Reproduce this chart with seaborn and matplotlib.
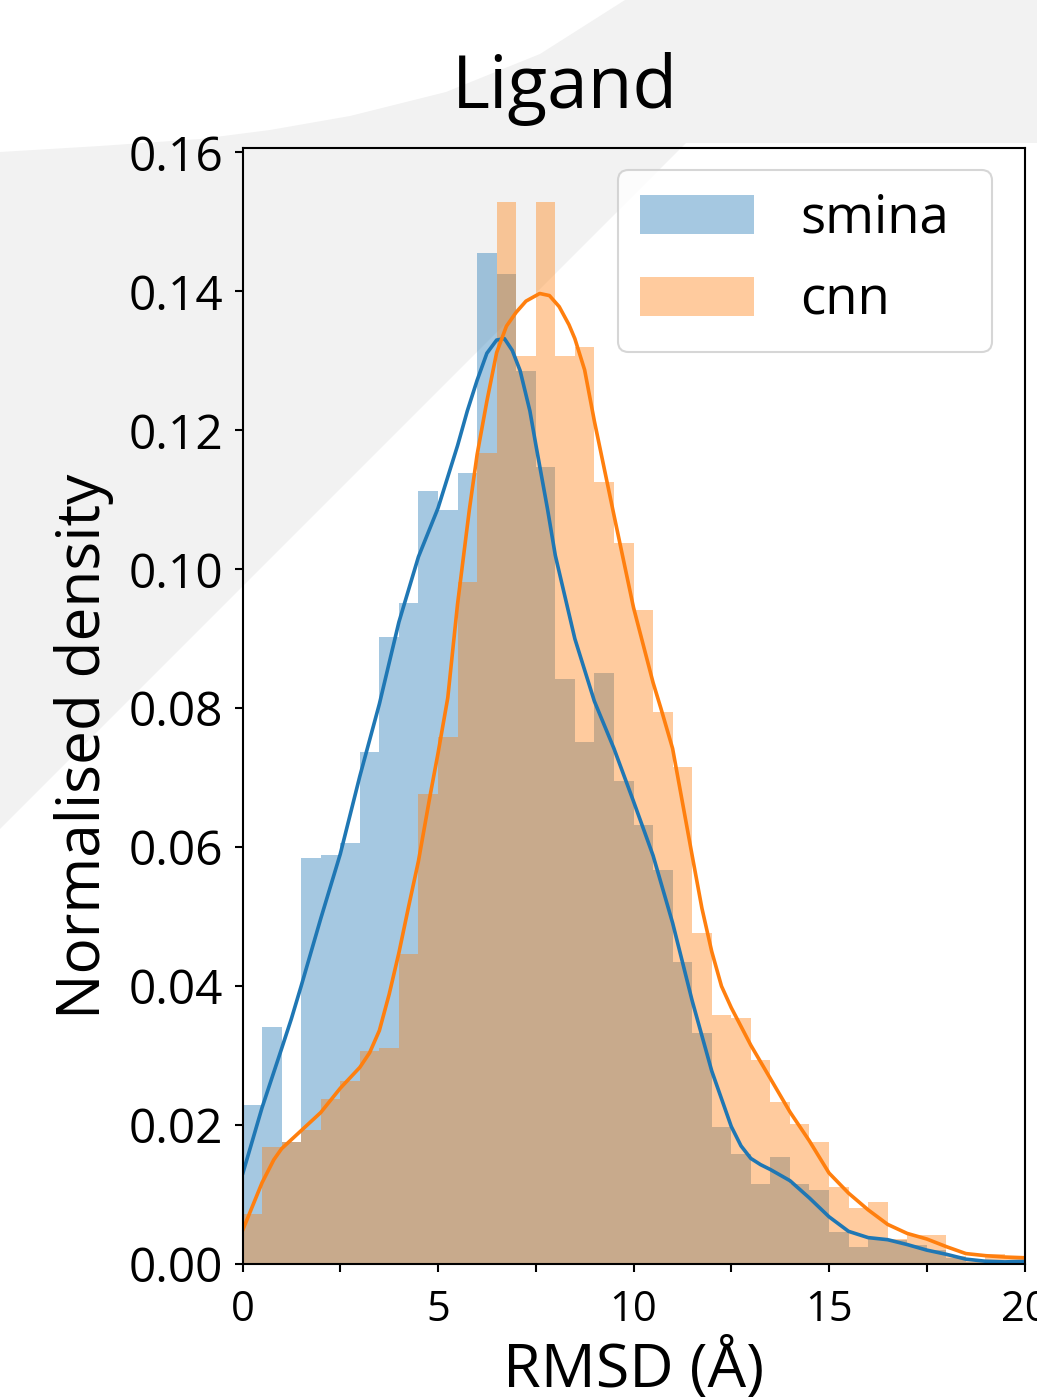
import numpy as np
import pandas as pd
import seaborn as sns
import matplotlib
matplotlib.use("Agg")
import matplotlib.pyplot as plt
from matplotlib.patches import Patch, Polygon, FancyBboxPatch
from matplotlib.transforms import IdentityTransform

# ---------------- data ----------------
bin_edges = [i * 0.5 for i in range(41)]  # 0 .. 20, width 0.5

smina_density = [0.0229, 0.0341, 0.0176, 0.0585, 0.0589, 0.0606, 0.0737, 0.0903,
                 0.0951, 0.1112, 0.1086, 0.1138, 0.1455, 0.1425, 0.1286, 0.1147,
                 0.0842, 0.0751, 0.0851, 0.0695, 0.0632, 0.0567, 0.0434, 0.0332,
                 0.0197, 0.0158, 0.0115, 0.0154, 0.0115, 0.0106, 0.0046, 0.0024,
                 0.0038, 0.0034, 0.0027, 0.0020, 0.0008, 0.0003, 0.0003, 0.0004]

cnn_density = [0.0072, 0.0168, 0.0176, 0.0193, 0.0238, 0.0264, 0.0307, 0.0311,
               0.0446, 0.0677, 0.0759, 0.0981, 0.1168, 0.1529, 0.1307, 0.1529,
               0.1307, 0.1320, 0.1125, 0.1038, 0.0942, 0.0794, 0.0716, 0.0477,
               0.0358, 0.0354, 0.0293, 0.0233, 0.0201, 0.0176, 0.0111, 0.0081,
               0.0089, 0.0036, 0.0042, 0.0042, 0.0012, 0.0004, 0.0015, 0.0008]

smina_kde_x = [0, 0.5, 1.0, 1.25, 1.5, 2.0, 2.5, 3.0, 3.5, 4.0, 4.5, 5.0, 5.3, 5.5,
               5.75, 6.0, 6.25, 6.5, 6.7, 6.9, 7.1, 7.35, 7.5, 7.8, 8.0, 8.5, 9.0,
               9.5, 10.0, 10.5, 11.0, 11.5, 12.0, 12.5, 12.75, 13.0, 13.25, 13.5,
               14.0, 14.5, 15.0, 15.5, 16.0, 16.5, 17.0, 17.5, 18.0, 18.5, 19.0,
               19.5, 20.0]
smina_kde_y = [0.0129, 0.0225, 0.0310, 0.0353, 0.0400, 0.0497, 0.0590, 0.0702,
               0.0806, 0.0924, 0.1018, 0.1088, 0.1142, 0.1178, 0.1228, 0.1272,
               0.1311, 0.1330, 0.1332, 0.1315, 0.1286, 0.1228, 0.1180, 0.1087,
               0.1020, 0.0900, 0.0810, 0.0742, 0.0666, 0.0588, 0.0491, 0.0379,
               0.0278, 0.0198, 0.0170, 0.0152, 0.0143, 0.0136, 0.0120, 0.0095,
               0.0068, 0.0047, 0.0038, 0.0035, 0.0028, 0.0020, 0.0014, 0.0007,
               0.0004, 0.0003, 0.0004]

cnn_kde_x = [0, 0.5, 0.8, 1.0, 1.5, 2.0, 2.5, 3.0, 3.25, 3.5, 3.75, 4.0, 4.25, 4.5,
             4.8, 5.0, 5.25, 5.5, 5.8, 6.0, 6.25, 6.5, 6.75, 7.0, 7.25, 7.6, 7.85,
             8.1, 8.35, 8.5, 8.75, 9.0, 9.5, 10.0, 10.5, 10.7, 11.0, 11.5, 11.75,
             12.0, 12.25, 12.5, 13.0, 13.5, 14.0, 14.5, 15.0, 15.5, 16.0, 16.5,
             17.0, 17.5, 18.0, 18.5, 19.0, 19.5, 20.0]
cnn_kde_y = [0.0048, 0.0117, 0.0150, 0.0166, 0.0192, 0.0218, 0.0253, 0.0283,
             0.0304, 0.0336, 0.0388, 0.0448, 0.0515, 0.0580, 0.0675, 0.0735,
             0.0815, 0.0950, 0.1085, 0.1165, 0.1242, 0.1312, 0.1350, 0.1370,
             0.1386, 0.1397, 0.1394, 0.1378, 0.1352, 0.1332, 0.1287, 0.1213,
             0.1078, 0.0945, 0.0837, 0.0800, 0.0742, 0.0588, 0.0512, 0.0450,
             0.0400, 0.0369, 0.0315, 0.0267, 0.0219, 0.0177, 0.0131, 0.0102,
             0.0078, 0.0057, 0.0044, 0.0036, 0.0025, 0.0015, 0.0012, 0.0010,
             0.0009]

series_names = ["smina", "cnn"]
title_text = "Ligand"
x_label = "RMSD (Å)"
y_label = "Normalised density"
xtick_major = [0, 5, 10, 15, 20]
xtick_minor = [2.5, 7.5, 12.5, 17.5]
ytick_values = [0.00, 0.02, 0.04, 0.06, 0.08, 0.10, 0.12, 0.14, 0.16]

# ---------------- style ----------------
sns.set_style("ticks")
plt.rcParams["font.family"] = ["Open Sans", "DejaVu Sans"]
plt.rcParams["axes.linewidth"] = 1.5
for key in ["text.color", "axes.labelcolor", "xtick.color", "ytick.color",
            "axes.edgecolor"]:
    plt.rcParams[key] = "black"

blue = "#1f77b4"
orange = "#ff7f0e"

W, H = 1037, 1397
fig = plt.figure(figsize=(W / 100, H / 100), dpi=100)
fig.patch.set_facecolor("white")

# decorative light-grey background shape (figure-pixel outline)
bg_px = [(0, 152), (100, 146), (200, 139), (270, 130), (350, 116), (446, 92),
         (540, 54), (625, 0), (1037, 0), (1037, 143), (686, 143), (0, 829)]
bg = Polygon([(x / W, 1 - y / H) for x, y in bg_px], closed=True,
             transform=fig.transFigure, facecolor="#f2f2f2", edgecolor="none",
             zorder=-10)
fig.add_artist(bg)

ax_l, ax_r, ax_t, ax_b = 242.5, 1024.5, 148.3, 1264.0
ax = fig.add_axes([ax_l / W, 1 - ax_b / H, (ax_r - ax_l) / W, (ax_b - ax_t) / H])
ax.set_facecolor("none")

centers = [(bin_edges[i] + bin_edges[i + 1]) / 2 for i in range(len(bin_edges) - 1)]
df = pd.DataFrame({"x": centers, "smina": smina_density, "cnn": cnn_density})

sns.histplot(data=df, x="x", weights="smina", bins=bin_edges, stat="count",
             color=blue, alpha=0.4, linewidth=0, edgecolor="none", ax=ax)
sns.histplot(data=df, x="x", weights="cnn", bins=bin_edges, stat="count",
             color=orange, alpha=0.4, linewidth=0, edgecolor="none", ax=ax)

sns.lineplot(x=smina_kde_x, y=smina_kde_y, color=blue, linewidth=2.6, ax=ax)
sns.lineplot(x=cnn_kde_x, y=cnn_kde_y, color=orange, linewidth=2.6, ax=ax)

ax.set_xlim(0, 20)
ax.set_ylim(0, 0.1606)
ax.set_xticks(xtick_major)
ax.set_xticks(xtick_minor, minor=True)
ax.set_xticklabels([str(v) for v in xtick_major])
ax.set_yticks(ytick_values)
ax.set_yticklabels([f"{v:.2f}" for v in ytick_values])

for side in ["top", "right", "left", "bottom"]:
    ax.spines[side].set_visible(True)
    ax.spines[side].set_linewidth(1.5)
    ax.spines[side].set_color("black")

ax.tick_params(axis="both", which="both", direction="out", length=6, width=1.5,
               color="black", labelcolor="black")
ax.tick_params(axis="y", labelsize=34.5, pad=8)
ax.tick_params(axis="x", which="major", labelsize=30, pad=12)

ax.set_xlabel(x_label, fontsize=44, va="baseline")
ax.xaxis.set_label_coords(0.5, -(1387 - ax_b) / (ax_b - ax_t))
ax.set_ylabel(y_label, fontsize=43.5, va="baseline")
ax.yaxis.set_label_coords((100 - ax_l) / (ax_r - ax_l), (ax_b - 746) / (ax_b - ax_t))

fig.text(565 / W, 1 - 108 / H, title_text, fontsize=52.5, ha="center", va="baseline")

# legend frame (rounded box, pixel outline as in the reference)
frame_l, frame_t, frame_r, frame_b = 618, 170, 992, 352
frame = FancyBboxPatch((frame_l, H - frame_b), frame_r - frame_l, frame_b - frame_t,
                       boxstyle="round,pad=0,rounding_size=10.5",
                       transform=IdentityTransform(), facecolor="white",
                       edgecolor="#cccccc", linewidth=1.5, alpha=0.8, zorder=4.9)
ax.add_artist(frame)

handles = [Patch(facecolor=blue, alpha=0.4, edgecolor="none"),
           Patch(facecolor=orange, alpha=0.4, edgecolor="none")]
leg = ax.legend(handles, series_names, loc="upper left",
                bbox_to_anchor=((frame_l - ax_l) / (ax_r - ax_l), (ax_b - frame_t) / (ax_b - ax_t)),
                borderaxespad=0, fontsize=38, frameon=False,
                handlelength=2.16, handleheight=0.76, handletextpad=0.87,
                labelspacing=0.54, borderpad=0.42)

fig.savefig("out.png", dpi=100)
